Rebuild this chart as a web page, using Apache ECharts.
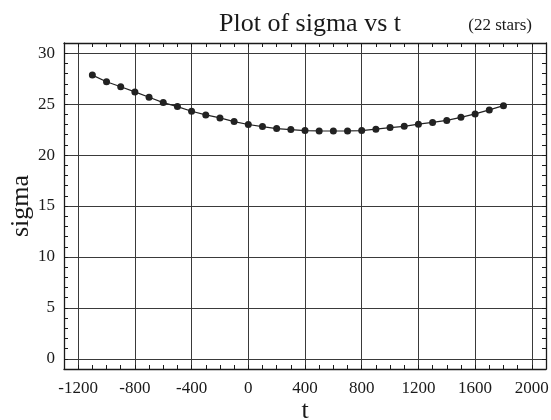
<!DOCTYPE html>
<html>
<head>
<meta charset="utf-8">
<script src="https://cdn.jsdelivr.net/npm/echarts@6/dist/echarts.min.js"></script>
<style>
  html, body { margin: 0; padding: 0; background: #fff; }
  #chart { width: 551px; height: 420px; }
</style>
</head>
<body>
<div id="chart"></div>
<script>
// Time t and the fitted sigma at each step
const tValues = [-1100, -1000, -900, -800, -700, -600, -500, -400, -300, -200, -100,
  0, 100, 200, 300, 400, 500, 600, 700, 800, 900, 1000, 1100, 1200, 1300, 1400,
  1500, 1600, 1700, 1800];
const sigmaValues = [27.85, 27.2, 26.7, 26.2, 25.67, 25.15, 24.76, 24.3, 23.94, 23.65, 23.29,
  23.0, 22.8, 22.6, 22.5, 22.4, 22.37, 22.36, 22.37, 22.4, 22.54, 22.7, 22.82, 23.03, 23.2, 23.4,
  23.7, 24.04, 24.43, 24.85];

// Axis ranges and labelled ticks
const xRange = [-1300, 2100];
const yRange = [-1, 31];
const xMajorStep = 400;
const yMajorStep = 5;

const serif = '"Liberation Serif", "DejaVu Serif", serif';
const ink = '#1a1a1a';

// Only every major step gets a grid line: colours cycle per minor tick
function cycleColors(min, step, major) {
  const n = major / step;
  const first = ((((-min) % major) + major) % major) / step;
  const arr = [];
  for (let i = 0; i < n; i++) arr.push(i === first ? '#3a3a3a' : 'rgba(0,0,0,0)');
  return arr;
}

const data = tValues.map((t, i) => [t, sigmaValues[i]]);

const chart = echarts.init(document.getElementById('chart'), null, { renderer: 'canvas' });

const baseX = {
  type: 'value', min: xRange[0], max: xRange[1], interval: 100,
  axisLine: { show: true, onZero: false, lineStyle: { color: ink, width: 1.3 } },
  axisTick: { show: true, inside: true, length: 4, lineStyle: { color: ink } },
  splitLine: { show: false }
};
const baseY = {
  type: 'value', min: yRange[0], max: yRange[1], interval: 1,
  axisLine: { show: true, onZero: false, lineStyle: { color: ink, width: 1.3 } },
  axisTick: { show: true, inside: true, length: 4, lineStyle: { color: ink } },
  splitLine: { show: false }
};

chart.setOption({
  animation: false,
  backgroundColor: '#fff',
  title: [
    {
      text: 'Plot of sigma vs t', left: 305, top: 6, textAlign: 'center',
      textStyle: { fontFamily: serif, fontSize: 26, fontWeight: 'normal', color: ink }
    },
    {
      text: '(22 stars)', right: 14, top: 12,
      textStyle: { fontFamily: serif, fontSize: 17, fontWeight: 'normal', color: ink }
    }
  ],
  grid: { left: 64, right: 5, top: 43, bottom: 51, containLabel: false, outerBoundsMode: 'none' },
  xAxis: [
    Object.assign({}, baseX, {
      position: 'bottom',
      name: 't', nameLocation: 'middle', nameGap: 29, nameMoveOverlap: false,
      nameTextStyle: { fontFamily: serif, fontSize: 26, color: ink },
      axisLabel: {
        show: true, margin: 11, fontFamily: serif, fontSize: 17, color: ink,
        formatter: v => (v % xMajorStep === 0 ? String(v) : '')
      },
      splitLine: {
        show: true,
        lineStyle: { width: 1, color: cycleColors(xRange[0], 100, xMajorStep) }
      }
    }),
    Object.assign({}, baseX, { position: 'top', axisLabel: { show: false } })
  ],
  yAxis: [
    Object.assign({}, baseY, {
      position: 'left',
      name: 'sigma', nameLocation: 'middle', nameGap: 30, nameRotate: 90, nameMoveOverlap: false,
      nameTextStyle: { fontFamily: serif, fontSize: 26, color: ink },
      axisLabel: {
        show: true, margin: 9, fontFamily: serif, fontSize: 17, color: ink,
        formatter: v => (v % yMajorStep === 0 ? String(v) : '')
      },
      splitLine: {
        show: true,
        lineStyle: { width: 1, color: cycleColors(yRange[0], 1, yMajorStep) }
      }
    }),
    Object.assign({}, baseY, { position: 'right', axisLabel: { show: false } })
  ],
  series: [{
    type: 'line',
    data: data,
    xAxisIndex: 0, yAxisIndex: 0,
    symbol: 'circle', symbolSize: 7,
    itemStyle: { color: '#222' },
    lineStyle: { color: '#222', width: 1.2 }
  }]
});
</script>
</body>
</html>
